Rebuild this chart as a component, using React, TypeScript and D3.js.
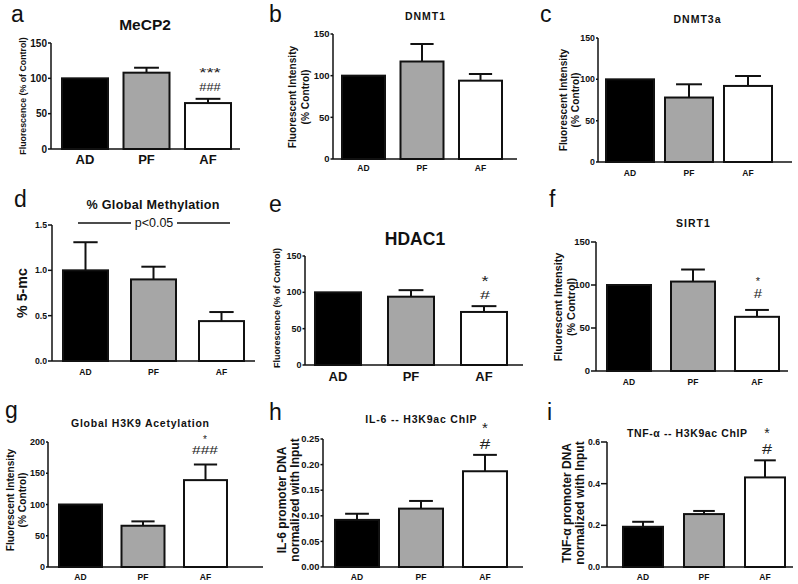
import React from "react";
import * as d3 from "d3";

const groups = ["AD", "PF", "AF"];

const mecp2Mean = [100, 108, 65];
const mecp2Sem = [0, 7, 6];
const dnmt1Mean = [100, 117, 94];
const dnmt1Sem = [0, 21, 8];
const dnmt3aMean = [100, 78, 92];
const dnmt3aSem = [0, 16, 12];
const methMean = [1.0, 0.9, 0.44];
const methSem = [0.31, 0.14, 0.1];
const hdac1Mean = [100, 94, 73];
const hdac1Sem = [0, 9, 8];
const sirt1Mean = [100, 104, 63];
const sirt1Sem = [0, 14, 8];
const h3k9Mean = [100, 66, 139];
const h3k9Sem = [0, 7, 25];
const il6Mean = [0.092, 0.114, 0.187];
const il6Sem = [0.012, 0.015, 0.032];
const tnfMean = [0.193, 0.254, 0.43];
const tnfSem = [0.024, 0.015, 0.082];

const ticks150 = [0, 50, 100, 150];
const ticks200 = [0, 50, 100, 150, 200];
const ticksMeth = [0, 0.5, 1.0, 1.5];
const ticksIl6 = [0, 0.05, 0.1, 0.15, 0.2, 0.25];
const ticksTnf = [0, 0.2, 0.4, 0.6];

const fills = ["#000000", "#a6a6a6", "#ffffff"];
const FONT = "'Liberation Sans', Arial, Helvetica, sans-serif";

type Ann = { text: string; y: number; size: number; w?: number };
type Cfg = {
  letter: string; lx: number; ly: number;
  mean: number[]; sem: number[]; ticks: number[]; fmt: string;
  ax: number; aend: number; y0: number; y1: number;
  barL: number; barR: number; barW: number; tl: number;
  tickSize: number; xlabY: number; xlabSize: number;
  title: string; tx: number; ty: number; tSize: number; tls?: number;
  ylab: string[]; ylx: number[]; ylcy: number; ylSize: number;
  ann?: Ann[]; annX?: number;
  pline?: boolean;
};

const panels: Cfg[] = [
  {
    letter: "a", lx: 11, ly: 22, mean: mecp2Mean, sem: mecp2Sem, ticks: ticks150, fmt: "d",
    ax: 51, aend: 240, y0: 149, y1: 43, barL: 62, barR: 231, barW: 46, tl: 3,
    tickSize: 10, xlabY: 164, xlabSize: 13,
    title: "MeCP2", tx: 145, ty: 30, tSize: 15.5,
    ylab: ["Fluorescence (% of Control)"], ylx: [23], ylcy: 96, ylSize: 8.8,
    annX: 210, ann: [{ text: "***", y: 77, size: 13, w: 21.5 }, { text: "###", y: 90.5, size: 10.5, w: 21.5 }],
  },
  {
    letter: "b", lx: 269, ly: 22, mean: dnmt1Mean, sem: dnmt1Sem, ticks: ticks150, fmt: "d",
    ax: 333, aend: 517, y0: 159, y1: 34, barL: 342, barR: 502, barW: 43, tl: 2.5,
    tickSize: 9.5, xlabY: 171, xlabSize: 8.5,
    title: "DNMT1", tx: 425, ty: 19.5, tSize: 10.5, tls: 1,
    ylab: ["Fluorescent Intensity", "(% Control)"], ylx: [292, 305], ylcy: 97, ylSize: 10.2,
  },
  {
    letter: "c", lx: 540, ly: 22, mean: dnmt3aMean, sem: dnmt3aSem, ticks: ticks150, fmt: "d",
    ax: 598, aend: 792, y0: 162, y1: 38, barL: 606, barR: 772, barW: 48, tl: 2,
    tickSize: 8.8, xlabY: 176, xlabSize: 8.5,
    title: "DNMT3a", tx: 697, ty: 22.5, tSize: 10.5, tls: 1,
    ylab: ["Fluorescent Intensity", "(% Control)"], ylx: [563, 575], ylcy: 100, ylSize: 10.2,
  },
  {
    letter: "d", lx: 14, ly: 207, mean: methMean, sem: methSem, ticks: ticksMeth, fmt: ".1f",
    ax: 52, aend: 255, y0: 361, y1: 225, barL: 63, barR: 244, barW: 45, tl: 4,
    tickSize: 8.7, xlabY: 375, xlabSize: 8.5,
    title: "% Global Methylation", tx: 153, ty: 209, tSize: 12.6, tls: 0.3,
    ylab: ["% 5-mc"], ylx: [22], ylcy: 293, ylSize: 14.3, pline: true,
  },
  {
    letter: "e", lx: 269, ly: 212, mean: hdac1Mean, sem: hdac1Sem, ticks: ticks150, fmt: "d",
    ax: 305, aend: 523, y0: 365, y1: 256, barL: 315, barR: 507, barW: 46, tl: 2.5,
    tickSize: 9, xlabY: 381, xlabSize: 13,
    title: "HDAC1", tx: 415, ty: 245, tSize: 17.5,
    ylab: ["Fluorescence (% of Control)"], ylx: [277], ylcy: 308, ylSize: 9,
    annX: 485, ann: [{ text: "*", y: 286, size: 14, w: 7 }, { text: "#", y: 298.5, size: 11, w: 10 }],
  },
  {
    letter: "f", lx: 549, ly: 207, mean: sirt1Mean, sem: sirt1Sem, ticks: ticks150, fmt: "d",
    ax: 596, aend: 788, y0: 371, y1: 242, barL: 607, barR: 779, barW: 44, tl: 5,
    tickSize: 9.5, xlabY: 385, xlabSize: 8.5,
    title: "SIRT1", tx: 693, ty: 227, tSize: 10.5, tls: 1,
    ylab: ["Fluorescent Intensity", "(% Control)"], ylx: [558, 571], ylcy: 307, ylSize: 10.8,
    annX: 758, ann: [{ text: "*", y: 285, size: 11 }, { text: "#", y: 298, size: 12.5, w: 8.3 }],
  },
  {
    letter: "g", lx: 5, ly: 418, mean: h3k9Mean, sem: h3k9Sem, ticks: ticks200, fmt: "d",
    ax: 48, aend: 263, y0: 567, y1: 442, barL: 59, barR: 227, barW: 43, tl: 2,
    tickSize: 9, xlabY: 580, xlabSize: 8.5,
    title: "Global H3K9 Acetylation", tx: 140, ty: 427, tSize: 10.5, tls: 0.75,
    ylab: ["Fluorescent Intensity", "(% Control)"], ylx: [10, 22], ylcy: 500, ylSize: 10.2,
    annX: 205, ann: [{ text: "*", y: 443, size: 10 }, { text: "###", y: 454, size: 11.5, w: 26 }],
  },
  {
    letter: "h", lx: 269, ly: 420, mean: il6Mean, sem: il6Sem, ticks: ticksIl6, fmt: ".2f",
    ax: 323, aend: 523, y0: 567, y1: 439, barL: 335, barR: 507, barW: 44, tl: 2.5,
    tickSize: 9.4, xlabY: 580, xlabSize: 8.5,
    title: "IL-6 -- H3K9ac ChIP", tx: 421, ty: 423, tSize: 10.5, tls: 0.8,
    ylab: ["IL-6 promoter DNA", "normalized with Input"], ylx: [282, 294.5], ylcy: 500, ylSize: 12,
    annX: 485, ann: [{ text: "*", y: 433, size: 15 }, { text: "#", y: 449, size: 15, w: 10.5 }],
  },
  {
    letter: "i", lx: 547, ly: 420, mean: tnfMean, sem: tnfSem, ticks: ticksTnf, fmt: ".1f",
    ax: 607, aend: 793, y0: 567, y1: 442, barL: 623, barR: 785, barW: 40, tl: 6,
    tickSize: 8.6, xlabY: 580, xlabSize: 8.5,
    title: "TNF-\u03b1 -- H3K9ac ChIP", tx: 687, ty: 437, tSize: 10.5, tls: 0.6,
    ylab: ["TNF-\u03b1 promoter DNA", "normalized with Input"], ylx: [567, 580], ylcy: 503, ylSize: 12,
    annX: 767, ann: [{ text: "*", y: 437.5, size: 14 }, { text: "#", y: 453.5, size: 14, w: 10 }],
  },
];

function Panel({ c }: { c: Cfg }) {
  const max = c.ticks[c.ticks.length - 1];
  const y = d3.scaleLinear().domain([0, max]).range([c.y0, c.y1]);
  const step = (c.barR - c.barL - c.barW) / 2;
  const pad = 1 - c.barW / step;
  const x = d3.scaleBand<string>().domain(groups).range([c.barL, c.barR]).paddingInner(pad).paddingOuter(0);
  const bw = x.bandwidth();
  const fmt = d3.format(c.fmt);
  return (
    <g fontFamily={FONT}>
      <text x={c.lx} y={c.ly} fontSize={23} fill="#111">{c.letter}</text>
      <text x={c.tx + (c.tls || 0) / 2} y={c.ty} fontSize={c.tSize} fontWeight="bold" textAnchor="middle" fill="#111"
        letterSpacing={c.tls || 0}>{c.title}</text>
      {groups.map((g, i) => {
        const x0 = x(g)!;
        const top = y(c.mean[i]);
        const errTop = y(c.mean[i] + c.sem[i]);
        const cx = x0 + bw / 2;
        return (
          <g key={g}>
            {c.sem[i] > 0 && (
              <g stroke="#111" strokeWidth={2}>
                <line x1={cx} x2={cx} y1={top} y2={errTop} />
                <line x1={cx - bw * 0.27} x2={cx + bw * 0.27} y1={errTop} y2={errTop} />
              </g>
            )}
            <rect x={x0} y={top} width={bw} height={c.y0 - top} fill={fills[i]} stroke="#111" strokeWidth={2} />
            <text x={cx} y={c.xlabY} fontSize={c.xlabSize} fontWeight="bold" textAnchor="middle" fill="#111">{g}</text>
          </g>
        );
      })}
      <line x1={c.ax} x2={c.ax} y1={c.y0} y2={c.y1} stroke="#111" strokeWidth={1.5} />
      <line x1={c.ax} x2={c.aend} y1={c.y0} y2={c.y0} stroke="#111" strokeWidth={1.5} />
      {c.ticks.map((t) => (
        <g key={t}>
          <line x1={c.ax - c.tl} x2={c.ax} y1={y(t)} y2={y(t)} stroke="#111" strokeWidth={1.5} />
          <text x={c.ax - c.tl - 1} y={y(t)} dy="0.35em" fontSize={c.tickSize} fontWeight="bold" textAnchor="end" fill="#111">{fmt(t)}</text>
        </g>
      ))}
      {c.ylab.map((l, k) => (
        <text key={k} transform={`translate(${c.ylx[k]},${c.ylcy}) rotate(-90)`} dy="0.35em" fontSize={c.ylSize}
          fontWeight="bold" textAnchor="middle" fill="#111">{l}</text>
      ))}
      {c.ann && c.ann.map((a, k) => (
        <text key={k} x={c.annX} y={a.y} fontSize={a.size} textAnchor="middle" fill="#222"
          textLength={a.w} lengthAdjust={a.w ? "spacingAndGlyphs" : undefined}>{a.text}</text>
      ))}
      {c.pline && (
        <g>
          <line x1={x("AD")! + 15} x2={131} y1={223} y2={223} stroke="#111" strokeWidth={1.5} />
          <line x1={177} x2={x("AF")! + 31} y1={223} y2={223} stroke="#111" strokeWidth={1.5} />
          <text x={154} y={223} dy="0.35em" fontSize={12.5} textAnchor="middle" fill="#111">p&lt;0.05</text>
        </g>
      )}
    </g>
  );
}

export default function App() {
  return (
    <svg width={798} height={584} style={{ position: "absolute", left: 0, top: 0, background: "#fff" }}>
      <rect width={798} height={584} fill="#fff" />
      {panels.map((c) => <Panel key={c.letter} c={c} />)}
    </svg>
  );
}
